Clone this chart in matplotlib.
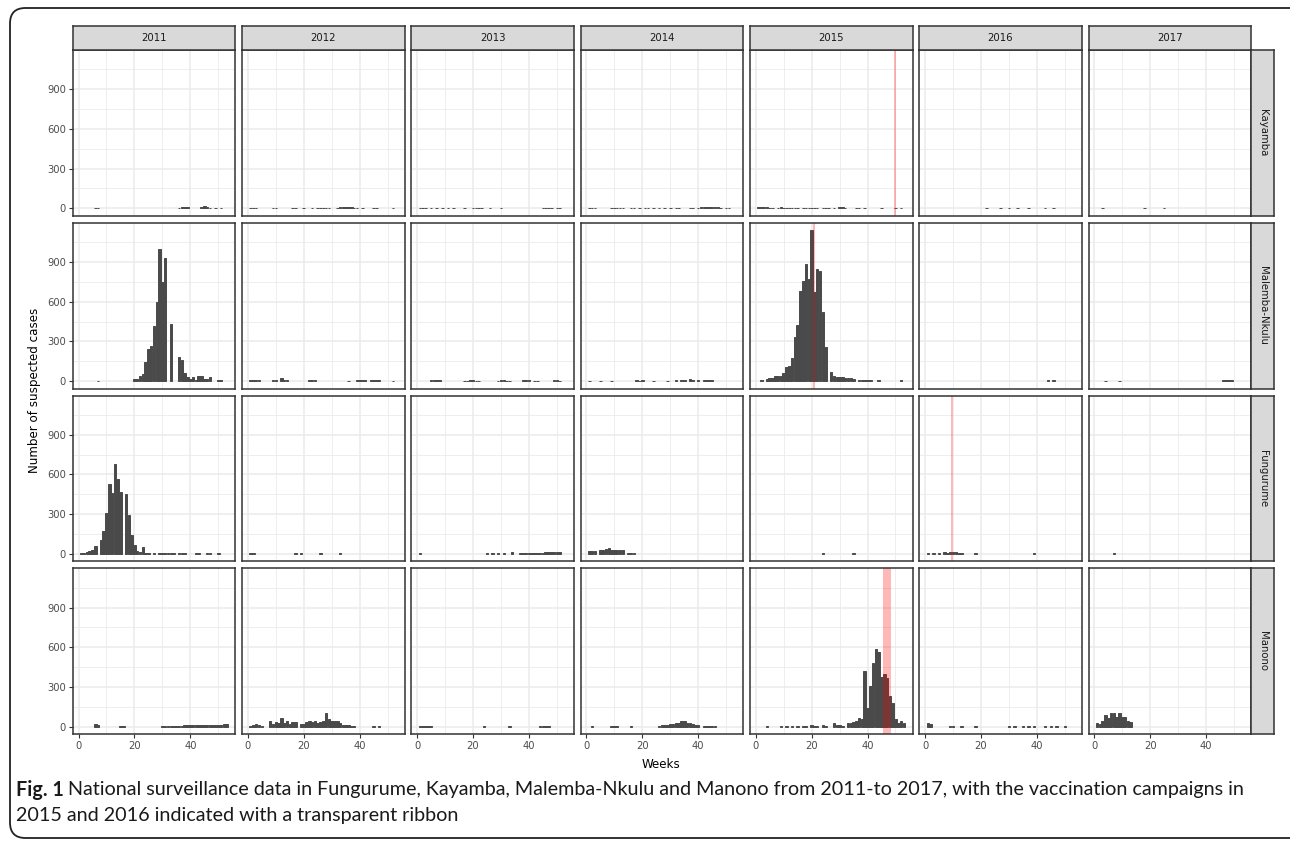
import numpy as np
import matplotlib
matplotlib.use("Agg")
import matplotlib.pyplot as plt
from matplotlib.patches import FancyBboxPatch
from matplotlib.ticker import MultipleLocator

# ---------------- data (week number -> suspected cases) ----------------
years = [2011, 2012, 2013, 2014, 2015, 2016, 2017]
zones = ["Kayamba", "Malemba-Nkulu", "Fungurume", "Manono"]

# Kayamba
kay_2011_wk = [6, 7, 36, 37, 38, 39, 44, 45, 46, 47, 49, 51]
kay_2011_n = [3, 3, 3, 8, 12, 12, 8, 15, 12, 5, 3, 3]
kay_2012_wk = [1, 2, 3, 9, 10, 16, 17, 20, 23, 25, 26, 27, 28, 29, 32, 33, 34, 35, 36, 37, 38, 39, 41, 45, 46, 52]
kay_2012_n = [3, 3, 3, 5, 5, 3, 3, 3, 3, 3, 5, 5, 5, 3, 5, 10, 10, 10, 8, 8, 5, 5, 3, 3, 3, 3]
kay_2013_wk = [1, 2, 3, 5, 7, 9, 11, 13, 17, 20, 21, 22, 23, 26, 30, 45, 46, 47, 48, 50, 51]
kay_2013_n = [3, 3, 3, 3, 3, 3, 3, 3, 5, 5, 5, 3, 3, 3, 3, 3, 5, 5, 3, 3, 5]
kay_2014_wk = [1, 2, 3, 9, 10, 11, 12, 13, 16, 17, 19, 21, 22, 24, 26, 28, 30, 32, 33, 37, 38, 40, 41, 42, 43, 44, 45, 46, 47, 48, 50, 51]
kay_2014_n = [3, 3, 3, 5, 5, 5, 5, 5, 5, 3, 3, 5, 3, 3, 5, 3, 3, 5, 3, 3, 5, 5, 8, 8, 8, 10, 8, 8, 8, 5, 5, 3]
kay_2015_wk = [1, 2, 3, 4, 5, 6, 8, 9, 10, 11, 12, 13, 14, 15, 17, 18, 19, 20, 21, 22, 24, 25, 26, 28, 30, 31, 32, 36, 37, 39, 45, 50, 52]
kay_2015_n = [8, 10, 8, 8, 5, 5, 5, 8, 5, 5, 5, 5, 3, 5, 3, 5, 3, 3, 5, 3, 3, 5, 3, 3, 8, 8, 5, 3, 5, 3, 3, 3, 3]
kay_2016_wk = [22, 27, 30, 33, 37, 43, 46]
kay_2016_n = [3, 3, 3, 3, 3, 3, 3]
kay_2017_wk = [3, 18, 25]
kay_2017_n = [3, 3, 3]

# Malemba-Nkulu
mal_2011_wk = [7, 20, 21, 22, 23, 24, 25, 26, 27, 28, 29, 30, 31, 33, 36, 37, 38, 39, 40, 41, 42, 43, 44, 45, 46, 47, 50, 51]
mal_2011_n = [3, 15, 15, 35, 50, 140, 240, 265, 415, 600, 1000, 750, 930, 430, 180, 160, 60, 30, 15, 30, 10, 35, 35, 15, 15, 30, 10, 10]
mal_2012_wk = [1, 2, 3, 4, 9, 10, 12, 13, 14, 22, 23, 24, 36, 39, 40, 41, 42, 44, 45, 46, 47, 52]
mal_2012_n = [5, 5, 5, 5, 5, 5, 20, 5, 5, 5, 5, 5, 3, 5, 5, 5, 5, 5, 5, 5, 5, 3]
mal_2013_wk = [5, 6, 7, 8, 17, 18, 19, 20, 21, 22, 29, 30, 31, 32, 33, 38, 39, 40, 42, 43, 49, 50, 51]
mal_2013_n = [5, 5, 5, 5, 3, 3, 5, 5, 3, 3, 3, 5, 5, 3, 3, 5, 5, 5, 3, 3, 5, 5, 3]
mal_2014_wk = [1, 5, 9, 18, 19, 20, 24, 29, 32, 34, 35, 37, 38, 40, 42, 43, 44, 45]
mal_2014_n = [3, 3, 3, 5, 3, 5, 3, 3, 5, 5, 8, 15, 5, 5, 8, 8, 5, 5]
mal_2015_wk = [2, 4, 5, 6, 7, 8, 9, 10, 11, 12, 13, 14, 15, 16, 17, 18, 19, 20, 21, 22, 23, 24, 25,
               27, 28, 29, 30, 31, 32, 33, 34, 35, 37, 38, 39, 40, 41, 44, 52]
mal_2015_n = [10, 15, 20, 25, 38, 40, 40, 60, 105, 112, 175, 330, 420, 680, 760, 885, 770, 1140, 675, 850, 835, 525, 260,
              70, 40, 30, 30, 30, 22, 22, 22, 15, 10, 10, 10, 10, 10, 10, 5]
mal_2016_wk = [44, 46]
mal_2016_n = [5, 5]
mal_2017_wk = [4, 9, 46, 47, 48, 49]
mal_2017_n = [3, 3, 5, 5, 5, 5]

# Fungurume
fun_2011_wk = [1, 2, 3, 4, 5, 6, 8, 9, 10, 11, 12, 13, 14, 15, 17, 18, 19, 20, 21, 22, 23, 24, 25,
               27, 29, 30, 31, 32, 33, 34, 36, 37, 38, 42, 43, 46, 47, 50]
fun_2011_n = [8, 8, 12, 20, 32, 57, 107, 170, 310, 525, 460, 680, 565, 470, 450, 290, 145, 63, 18, 12, 50, 8, 5,
              5, 5, 5, 5, 5, 5, 5, 5, 5, 5, 5, 5, 5, 5, 3]
fun_2012_wk = [1, 2, 17, 19, 26, 33]
fun_2012_n = [3, 3, 3, 3, 3, 3]
fun_2013_wk = [1, 25, 27, 29, 31, 34, 37, 38, 39, 40, 41, 42, 43, 44, 45, 46, 47, 48, 49, 50, 51]
fun_2013_n = [3, 3, 5, 3, 5, 15, 5, 8, 5, 8, 8, 8, 5, 8, 8, 10, 10, 10, 12, 15, 10]
fun_2014_wk = [1, 2, 3, 5, 6, 7, 8, 9, 10, 11, 12, 13, 15, 16, 17]
fun_2014_n = [20, 20, 20, 25, 30, 35, 45, 30, 30, 30, 25, 25, 5, 5, 5]
fun_2015_wk = [24, 35]
fun_2015_n = [3, 3]
fun_2016_wk = [1, 3, 5, 7, 8, 9, 10, 11, 12, 13, 18, 39]
fun_2016_n = [5, 5, 8, 10, 8, 12, 10, 10, 8, 5, 3, 3]
fun_2017_wk = [7]
fun_2017_n = [3]

# Manono
man_2011_wk = [6, 7, 15, 16, 30, 31, 32, 33, 34, 35, 36, 37, 38, 39, 40, 41, 42, 43, 44, 45, 46, 47, 48, 49, 50, 51, 52, 53]
man_2011_n = [20, 15, 5, 5, 8, 8, 8, 8, 8, 8, 8, 8, 10, 10, 10, 10, 10, 10, 10, 10, 12, 12, 10, 12, 15, 15, 20, 20]
man_2012_wk = [1, 2, 3, 4, 5, 8, 9, 10, 11, 12, 13, 14, 15, 16, 17, 19, 20, 21, 22, 23, 24, 25, 26, 27, 28, 29, 30, 31,
               32, 33, 34, 35, 36, 37, 38, 45, 47]
man_2012_n = [3, 10, 22, 10, 5, 45, 22, 32, 28, 65, 28, 40, 20, 35, 35, 22, 20, 35, 40, 35, 40, 30, 35, 45, 100, 55, 45, 40,
              40, 30, 15, 15, 10, 5, 5, 3, 3]
man_2013_wk = [1, 2, 3, 4, 5, 24, 33, 44, 45, 46, 47]
man_2013_n = [5, 5, 5, 5, 5, 3, 3, 5, 5, 5, 5]
man_2014_wk = [2, 9, 10, 11, 16, 26, 27, 28, 29, 30, 31, 32, 33, 34, 35, 36, 37, 38, 39, 40, 42, 43, 44, 45, 46]
man_2014_n = [3, 3, 5, 3, 3, 5, 10, 10, 15, 20, 20, 25, 30, 45, 40, 25, 25, 20, 15, 10, 5, 5, 5, 5, 5]
man_2015_wk = [4, 9, 11, 13, 15, 17, 18, 20, 21, 22, 24, 25, 28, 29, 30, 31, 33, 34, 35, 36, 37, 38, 39, 40, 41, 42, 43,
               44, 45, 46, 47, 48, 49, 50, 51, 52, 53]
man_2015_n = [5, 5, 5, 5, 5, 5, 5, 10, 5, 8, 10, 8, 30, 15, 15, 8, 30, 30, 35, 45, 65, 60, 420, 140, 310, 478, 585,
              565, 378, 395, 365, 228, 178, 60, 28, 45, 28]
man_2016_wk = [1, 2, 9, 10, 13, 18, 30, 32, 35, 37, 39, 43, 45, 47, 50]
man_2016_n = [25, 20, 5, 5, 3, 3, 5, 3, 5, 3, 3, 5, 5, 5, 3]
man_2017_wk = [1, 2, 3, 4, 5, 6, 7, 8, 9, 10, 11, 12, 13]
man_2017_n = [30, 20, 45, 85, 65, 105, 100, 70, 100, 75, 70, 40, 35]

# vaccination campaigns (zone, year, start week, end week)
vacc_zone = ["Kayamba", "Malemba-Nkulu", "Fungurume", "Manono"]
vacc_year = [2015, 2015, 2016, 2015]
vacc_start = [49.5, 20.6, 9.4, 45.5]
vacc_end = [50.2, 21.2, 10.0, 48.5]

panel_data = {
    "Kayamba": [(kay_2011_wk, kay_2011_n), (kay_2012_wk, kay_2012_n), (kay_2013_wk, kay_2013_n),
                (kay_2014_wk, kay_2014_n), (kay_2015_wk, kay_2015_n), (kay_2016_wk, kay_2016_n),
                (kay_2017_wk, kay_2017_n)],
    "Malemba-Nkulu": [(mal_2011_wk, mal_2011_n), (mal_2012_wk, mal_2012_n), (mal_2013_wk, mal_2013_n),
                      (mal_2014_wk, mal_2014_n), (mal_2015_wk, mal_2015_n), (mal_2016_wk, mal_2016_n),
                      (mal_2017_wk, mal_2017_n)],
    "Fungurume": [(fun_2011_wk, fun_2011_n), (fun_2012_wk, fun_2012_n), (fun_2013_wk, fun_2013_n),
                  (fun_2014_wk, fun_2014_n), (fun_2015_wk, fun_2015_n), (fun_2016_wk, fun_2016_n),
                  (fun_2017_wk, fun_2017_n)],
    "Manono": [(man_2011_wk, man_2011_n), (man_2012_wk, man_2012_n), (man_2013_wk, man_2013_n),
               (man_2014_wk, man_2014_n), (man_2015_wk, man_2015_n), (man_2016_wk, man_2016_n),
               (man_2017_wk, man_2017_n)],
}

# ---------------- figure ----------------
W, H = 1290, 841
fig = plt.figure(figsize=(W / 100, H / 100), dpi=100)
plt.rcParams["font.family"] = ["DejaVu Sans"]

def frac_rect(x, y, w, h):
    return [x / W, 1 - (y + h) / H, w / W, h / H]

# outer rounded frame of the article figure
frame = FancyBboxPatch((10 / W, 3 / H), 1.2, 1 - 11 / H, boxstyle="round,pad=0,rounding_size=0.012",
                       transform=fig.transFigure, fill=False, edgecolor="#222222", linewidth=1.3,
                       mutation_aspect=W / H)
fig.patches.append(frame)

col_left0, col_step, pw = 72.7, 169.3, 162.6
row_top0, row_step, ph = 50.0, 172.8, 165.7
bar_color = "#4a4a4a"
grid_col = "#ebebeb"
border_col = "#333333"
strip_fill = "#d9d9d9"
tick_col = "#4d4d4d"
ymax_data = 1140
ylim = (-0.05 * ymax_data, 1.05 * ymax_data)
xlim = (0.55 - 0.05 * 52.9, 53.45 + 0.05 * 52.9)

for r, zone in enumerate(zones):
    for c, yr in enumerate(years):
        x0 = col_left0 + col_step * c
        y0 = row_top0 + row_step * r
        ax = fig.add_axes(frac_rect(x0, y0, pw, ph))
        wk, n = panel_data[zone][c]
        ax.set_axisbelow(True)
        ax.bar(wk, n, width=0.9, color=bar_color, edgecolor=bar_color, linewidth=0.7, zorder=2)
        for vz, vy, vs, ve in zip(vacc_zone, vacc_year, vacc_start, vacc_end):
            if vz == zone and vy == yr:
                ax.axvspan(vs, ve, color="red", alpha=0.28, linewidth=0, zorder=3)
        ax.set_xlim(*xlim)
        ax.set_ylim(*ylim)
        ax.xaxis.set_major_locator(MultipleLocator(20))
        ax.xaxis.set_minor_locator(MultipleLocator(10))
        ax.yaxis.set_major_locator(MultipleLocator(300))
        ax.yaxis.set_minor_locator(MultipleLocator(150))
        ax.grid(which="major", color=grid_col, linewidth=1.1, zorder=0)
        ax.grid(which="minor", color=grid_col, linewidth=0.6, zorder=0)
        for s in ax.spines.values():
            s.set_color(border_col)
            s.set_linewidth(1.1)
            s.set_zorder(5)
        ax.tick_params(which="minor", length=0)
        ax.tick_params(which="major", length=3, color=border_col, width=0.8,
                       labelsize=7.2, labelcolor=tick_col, pad=2)
        if c == 0:
            ax.set_yticks([0, 300, 600, 900])
            ax.set_yticklabels(["0", "300", "600", "900"])
        else:
            ax.tick_params(axis="y", which="major", length=0, labelleft=False)
        if r == len(zones) - 1:
            ax.set_xticks([0, 20, 40])
            ax.set_xticklabels(["0", "20", "40"])
        else:
            ax.tick_params(axis="x", which="major", length=0, labelbottom=False)
        # top strips
        if r == 0:
            sax = fig.add_axes(frac_rect(x0, 25.7, pw, 50 - 25.7))
            sax.set_xticks([]); sax.set_yticks([])
            sax.set_facecolor(strip_fill)
            for s in sax.spines.values():
                s.set_color(border_col); s.set_linewidth(1.1)
            sax.text(0.5, 0.5, str(yr), ha="center", va="center", fontsize=7.3, color="#1a1a1a",
                     transform=sax.transAxes)
        # right strips
        if c == len(years) - 1:
            sax = fig.add_axes(frac_rect(x0 + pw, y0, 23.3, ph))
            sax.set_xticks([]); sax.set_yticks([])
            sax.set_facecolor(strip_fill)
            for s in sax.spines.values():
                s.set_color(border_col); s.set_linewidth(1.1)
            sax.text(0.5, 0.5, zone, ha="center", va="center", rotation=-90, fontsize=7.3,
                     color="#1a1a1a", transform=sax.transAxes)

# axis titles
fig.text(35 / W, 1 - 390 / H, "Number of suspected cases", rotation=90, ha="center", va="center",
         fontsize=8.6, color="black")
fig.text(661 / W, 1 - 765 / H, "Weeks", ha="center", va="center", fontsize=8.6, color="black")

# caption
cap_font = ["Lato", "DejaVu Sans"]
cap_size = 14.2
t1 = fig.text(16 / W, 1 - 790 / H, "Fig. 1", ha="left", va="center", fontsize=cap_size, fontweight="bold",
              color="#1a1a1a", family=cap_font)
fig.canvas.draw()
bb = t1.get_window_extent()
fig.text((bb.x1 + 4) / W, 1 - 790 / H,
         "National surveillance data in Fungurume, Kayamba, Malemba-Nkulu and Manono from 2011-to 2017, "
         "with the vaccination campaigns in",
         ha="left", va="center", fontsize=cap_size, color="#1a1a1a", family=cap_font)
fig.text(16 / W, 1 - 816 / H, "2015 and 2016 indicated with a transparent ribbon", ha="left", va="center",
         fontsize=cap_size, color="#1a1a1a", family=cap_font)

fig.savefig("out.png", dpi=100, facecolor="white")
